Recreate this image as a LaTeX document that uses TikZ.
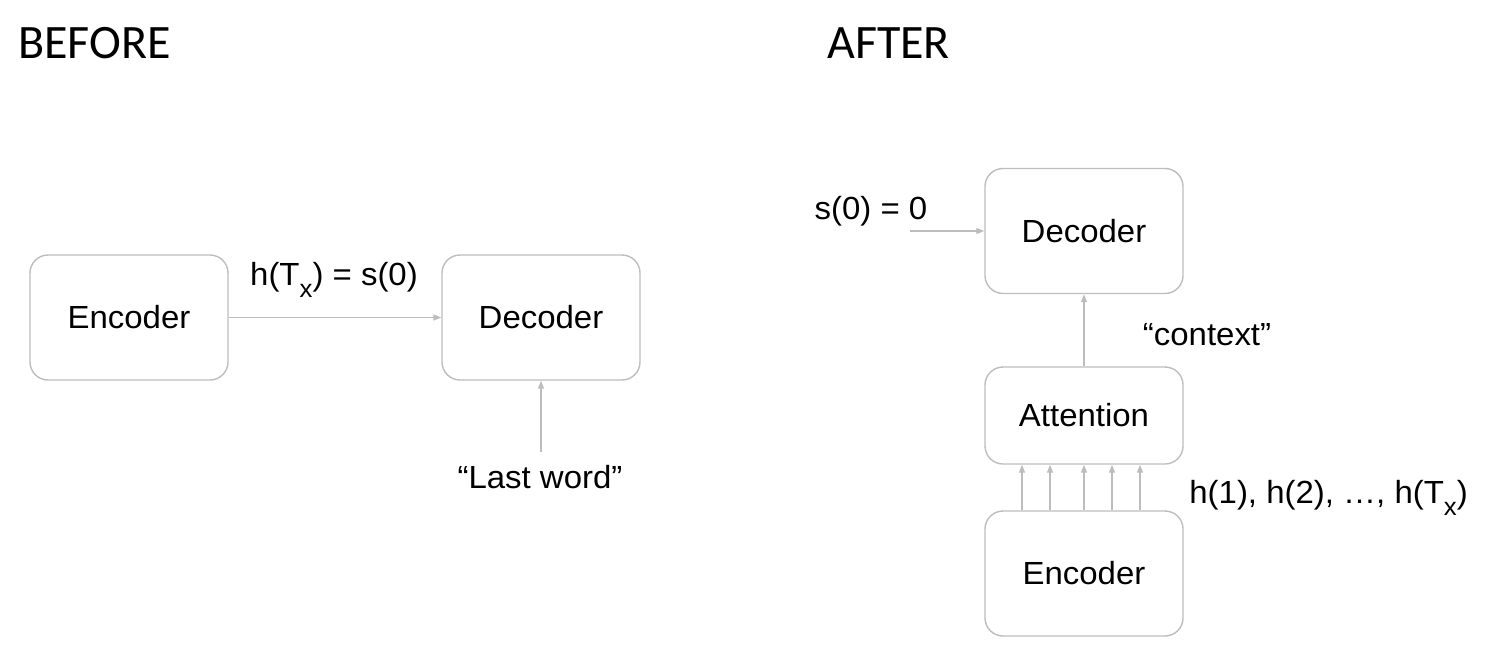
\documentclass[tikz,border=0pt]{standalone}
\usepackage{fontspec}
\usetikzlibrary{arrows.meta,calc}
\newfontfamily\dfont{Liberation Sans}[FakeStretch=1.03]
\newfontfamily\tfont{Carlito}
\definecolor{boxgray}{HTML}{BDBDBD}
\newcommand{\subx}{\raisebox{-12pt}{\fontsize{25}{27}\selectfont x}}
\tikzset{
  box/.style={draw=boxgray, line width=1.4pt, rounded corners=18pt, inner sep=0pt, font=\dfont\fontsize{32}{36}\selectfont},
  lbl/.style={inner sep=0pt, anchor=base, font=\dfont\fontsize{32}{36}\selectfont},
  ttl/.style={inner sep=0pt, anchor=base west, font=\tfont\fontsize{48}{56}\selectfont},
  arr/.style={draw=boxgray, line width=1.4pt, -{Triangle[length=8pt,width=6pt]}}
}
\begin{document}
\begin{tikzpicture}[x=1pt,y=-1pt]
\useasboundingbox (0,0) rectangle (1490,656);
% titles
\node[ttl] (tb) at (18,58) {BEFORE};
\node[ttl] (ta) at (827,58) {AFTER};
% BEFORE
\node[box, minimum width=198pt, minimum height=125pt] (enc1) at (129,317.5) {Encoder};
\node[box, minimum width=198pt, minimum height=125pt] (dec1) at (541,317.5) {Decoder};
\draw[arr] (enc1.east) -- (dec1.west);
\node[lbl] (h1) at (334,285) {h(T\subx) = s(0)};
\coordinate (lwtop) at (541,452);
\node[lbl] (lw) at (540,488) {“Last word”};
\draw[arr] (lwtop) -- (dec1.south);
% AFTER
\node[box, minimum width=198pt, minimum height=125pt] (dec2) at (1084,231) {Decoder};
\node[box, minimum width=198pt, minimum height=97pt] (att) at (1084,415.5) {Attention};
\node[box, minimum width=198pt, minimum height=125pt] (enc2) at (1084,573.5) {Encoder};
\coordinate (sin) at (910,231);
\node[lbl] (s0) at (871,219) {s(0) = 0};
\draw[arr] (sin) -- (dec2.west);
\draw[arr] (att.north) -- (dec2.south);
\node[lbl] (ctx) at (1207,345) {“context”};
\foreach \dx in {-62,-34,0,28,56} {
  \draw[arr] ($(enc2.north)+(\dx,0)$) -- ($(att.south)+(\dx,0)$);
}
\node[lbl, anchor=base east] (hs) at (1468,503) {h(1), h(2), …, h(T\subx)};
\end{tikzpicture}
\end{document}
